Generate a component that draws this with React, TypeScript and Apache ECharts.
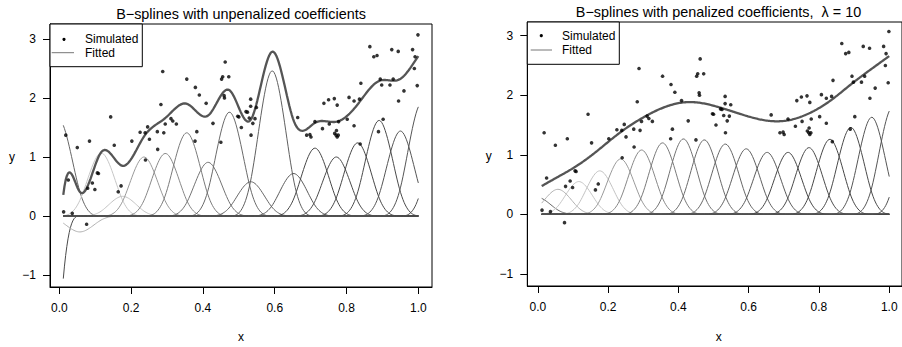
import React, { useEffect, useRef } from "react";
import * as echarts from "echarts";

// ---- Simulated data ----
const xSim = [
  0.012, 0.018, 0.025, 0.036, 0.05, 0.076, 0.079, 0.084, 0.092, 0.099,
  0.106, 0.109, 0.143, 0.153, 0.164, 0.172, 0.202, 0.225, 0.239, 0.24,
  0.246, 0.251, 0.273, 0.274, 0.283, 0.288, 0.291, 0.295, 0.311, 0.316,
  0.326, 0.355, 0.378, 0.379, 0.383, 0.39, 0.409, 0.428, 0.45, 0.452,
  0.455, 0.459, 0.46, 0.462, 0.472, 0.497, 0.5, 0.507, 0.52, 0.524,
  0.529, 0.533, 0.533, 0.534, 0.539, 0.545, 0.549, 0.664, 0.689, 0.698,
  0.701, 0.712, 0.733, 0.737, 0.75, 0.752, 0.766, 0.767, 0.771, 0.772,
  0.774, 0.774, 0.777, 0.778, 0.802, 0.807, 0.821, 0.821, 0.836, 0.838,
  0.84, 0.865, 0.876, 0.885, 0.889, 0.894, 0.898, 0.902, 0.921, 0.926,
  0.93, 0.944, 0.945, 0.96, 0.984, 0.989, 0.991, 0.997, 0.999,
];
const ySim = [
  0.07, 1.37, 0.61, 0.045, 1.16, -0.14, 0.47, 1.27, 0.56, 0.45,
  0.73, 0.72, 1.68, 1.2, 0.41, 0.51, 1.27, 1.42, 1.41, 0.95,
  1.51, 1.3, 1.43, 1.13, 1.89, 2.45, 1.41, 1.56, 1.65, 1.61,
  1.56, 2.32, 1.27, 2.18, 1.43, 2.05, 1.91, 1.57, 1.25, 2.32,
  2.36, 2.04, 2.0, 2.61, 2.36, 1.69, 1.68, 1.5, 1.77, 1.76,
  1.66, 1.98, 1.86, 1.37, 1.57, 1.65, 1.84, 1.67, 1.37, 1.38,
  1.34, 1.6, 1.48, 1.91, 1.97, 1.56, 1.99, 1.4, 1.37, 1.45,
  1.34, 1.88, 1.37, 1.6, 1.64, 2.01, 1.53, 1.95, 1.98, 1.22,
  2.25, 2.87, 2.7, 2.72, 1.43, 2.32, 2.22, 1.64, 2.22, 2.82,
  2.32, 2.79, 1.95, 2.12, 2.82, 2.5, 2.7, 2.21, 3.07,
];

// ---- B-spline basis (equally spaced cubic B-splines) ----
const basisCenters = [
  -0.0618, -0.0023, 0.0572, 0.1168, 0.1763, 0.2358, 0.2954, 0.3549, 0.4144, 0.4739,
  0.5335, 0.593, 0.6525, 0.7121, 0.7716, 0.8311, 0.8907, 0.9502, 1.0097, 1.0692,
];
const basisSpacing = 0.0595;
const coefUnpenalized = [
  -13.6, 2.47, -0.405, 1.6, 0.5, 1.5, 1.59, 2.115, 1.365, 2.64,
  0.87, 3.69, 1.08, 1.725, 1.5, 1.86, 2.43, 2.16, 2.88, 3.04,
];
const coefPenalized = [
  0.22, 0.43, 0.63, 0.825, 1.095, 1.395, 1.62, 1.8, 1.9, 1.875,
  1.77, 1.65, 1.56, 1.56, 1.68, 1.89, 2.19, 2.445, 2.7, 2.95,
];
const curveRange = [0.011, 1.0];

const xTicks = [0, 0.2, 0.4, 0.6, 0.8, 1.0];
const yTicks = [-1, 0, 1, 2, 3];
const panelTitles = [
  "B−splines with unpenalized coefficients",
  "B−splines with penalized coefficients,  λ = 10",
];
const legendLabels = ["Simulated", "Fitted"];

const basisGreys = [
  "#4a4a4a", "#666666", "#b0b0b0", "#c6c6c6", "#c2c2c2", "#9a9a9a", "#888888", "#7a7a7a", "#737373", "#6a6a6a",
  "#666666", "#606060", "#5a5a5a", "#464646", "#4a4a4a", "#464646", "#4a4a4a", "#555555", "#555555", "#505050",
];

const FONT = "'Liberation Sans', Arial, Helvetica, sans-serif";

function cubicB(u: number): number {
  const a = Math.abs(u);
  if (a < 1) return 2 / 3 - a * a + (a * a * a) / 2;
  if (a < 2) return Math.pow(2 - a, 3) / 6;
  return 0;
}

const NGRID = 300;
const xGrid: number[] = [];
for (let i = 0; i <= NGRID; i++) xGrid.push(curveRange[0] + ((curveRange[1] - curveRange[0]) * i) / NGRID);

function panelSeries(coefs: number[], gi: number): any[] {
  const out: any[] = [];
  coefs.forEach((c, k) => {
    out.push({
      type: "line",
      xAxisIndex: gi,
      yAxisIndex: gi,
      showSymbol: false,
      silent: true,
      lineStyle: { color: basisGreys[k], width: 1 },
      data: xGrid.map((x) => [x, c * cubicB((x - basisCenters[k]) / basisSpacing)]),
      z: 2,
    });
  });
  out.push({
    type: "line",
    xAxisIndex: gi,
    yAxisIndex: gi,
    showSymbol: false,
    silent: true,
    lineStyle: { color: "#555555", width: 2.3 },
    data: xGrid.map((x) => [
      x,
      coefs.reduce((s, c, k) => s + c * cubicB((x - basisCenters[k]) / basisSpacing), 0),
    ]),
    z: 3,
  });
  out.push({
    type: "scatter",
    xAxisIndex: gi,
    yAxisIndex: gi,
    symbol: "circle",
    symbolSize: 3.6,
    itemStyle: { color: "#000" },
    silent: true,
    data: xSim.map((x, i) => [x, ySim[i]]),
    z: 4,
  });
  return out;
}

function xAxisCfg(gi: number, min: number, max: number) {
  return {
    type: "value",
    gridIndex: gi,
    min,
    max,
    position: "bottom",
    axisLine: { show: true, onZero: false, lineStyle: { color: "#000", width: 1 } },
    axisTick: { show: true, inside: false, length: 7, customValues: xTicks, lineStyle: { color: "#000", width: 1 } },
    axisLabel: {
      customValues: xTicks,
      formatter: (v: number) => v.toFixed(1),
      color: "#000",
      fontSize: 12,
      fontFamily: FONT,
      margin: 15,
    },
    splitLine: { show: false },
  };
}

function yAxisCfg(gi: number, min: number, max: number) {
  return {
    type: "value",
    gridIndex: gi,
    min,
    max,
    position: "left",
    axisLine: { show: true, onZero: false, lineStyle: { color: "#000", width: 1 } },
    axisTick: { show: true, inside: false, length: 7, customValues: yTicks, lineStyle: { color: "#000", width: 1 } },
    axisLabel: {
      customValues: yTicks,
      formatter: (v: number) => String(v).replace("-", "−"),
      color: "#000",
      fontSize: 12,
      fontFamily: FONT,
      margin: 14,
    },
    splitLine: { show: false },
  };
}

function legendGraphic(x0: number, y0: number, w: number, h: number, dot: number[], line: number[], tx: number, ty: number[]) {
  return [
    { type: "rect", shape: { x: x0, y: y0, width: w, height: h }, style: { fill: "#fff", stroke: "#000", lineWidth: 1 }, z: 100 },
    { type: "circle", shape: { cx: dot[0], cy: dot[1], r: 1.6 }, style: { fill: "#000" }, z: 101 },
    { type: "line", shape: { x1: line[0], y1: line[2], x2: line[1], y2: line[2] }, style: { stroke: "#777", lineWidth: 1 }, z: 101 },
    { type: "text", x: tx, y: ty[0], style: { text: legendLabels[0], font: `12px ${FONT}`, fill: "#000", textVerticalAlign: "middle" }, z: 101 },
    { type: "text", x: tx, y: ty[1], style: { text: legendLabels[1], font: `12px ${FONT}`, fill: "#000", textVerticalAlign: "middle" }, z: 101 },
  ];
}

function textG(text: string, x: number, y: number, size: number) {
  return {
    type: "text",
    x,
    y,
    style: { text, font: `${size}px ${FONT}`, fill: "#000", textAlign: "center", textVerticalAlign: "middle" },
    z: 100,
  };
}

export default function App() {
  const ref = useRef<HTMLDivElement>(null);
  useEffect(() => {
    if (!ref.current) return;
    const chart = echarts.init(ref.current, undefined, { renderer: "svg" });
    const option: any = {
      animation: false,
      backgroundColor: "#fff",
      grid: [
        { left: 50, top: 24, width: 382, height: 263, show: true, borderColor: "#000", borderWidth: 1, backgroundColor: "transparent" },
        { left: 527.3, top: 22, width: 382, height: 264, show: true, borderColor: "#000", borderWidth: 1, backgroundColor: "transparent" },
      ],
      xAxis: [xAxisCfg(0, -0.026, 1.0381), xAxisCfg(1, -0.0299, 1.0363)],
      yAxis: [yAxisCfg(0, -1.2034, 3.2542), yAxisCfg(1, -1.2044, 3.2303)],
      series: [...panelSeries(coefUnpenalized, 0), ...panelSeries(coefPenalized, 1)],
      graphic: [
        textG(panelTitles[0], 241, 14, 14.4),
        textG(panelTitles[1], 718.5, 11.5, 14.4),
        textG("x", 241, 337, 12),
        textG("y", 12, 157.3, 12),
        textG("x", 718.7, 337.3, 12),
        textG("y", 488.7, 155.7, 12),
        ...legendGraphic(50, 24, 92.3, 42.7, [64, 39.3], [51.7, 74, 52.7], 85, [39.3, 52.7]),
        ...legendGraphic(527.3, 22, 92, 42.3, [541.3, 35.7], [530.7, 552, 50], 562, [35.7, 50]),
      ],
    };
    chart.setOption(option);
    return () => chart.dispose();
  }, []);
  return (
    <div
      ref={ref}
      style={{ position: "fixed", left: 0, top: 0, width: 902, height: 347, background: "#fff" }}
    />
  );
}
